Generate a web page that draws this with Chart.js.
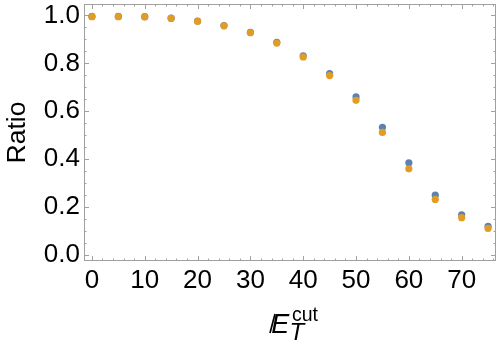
<!DOCTYPE html>
<html>
<head>
<meta charset="utf-8">
<script src="https://cdn.jsdelivr.net/npm/chart.js@4"></script>
<style>
  html, body { margin: 0; padding: 0; background: #fff; }
  #wrap { width: 500px; height: 342px; }
</style>
</head>
<body>
<div id="wrap"><canvas id="ratio"></canvas></div>
<script>
const cutValues = [0, 5, 10, 15, 20, 25, 30, 35, 40, 45, 50, 55, 60, 65, 70, 75];
const ratioBlue = [0.996, 0.996, 0.995, 0.989, 0.977, 0.958, 0.930, 0.888, 0.832, 0.757, 0.660, 0.533, 0.385, 0.250, 0.168, 0.120];
const ratioOrange = [0.995, 0.995, 0.994, 0.988, 0.976, 0.957, 0.928, 0.885, 0.827, 0.749, 0.646, 0.512, 0.360, 0.232, 0.156, 0.111];
const xTicks = [0, 10, 20, 30, 40, 50, 60, 70];
const yTicks = [0, 0.2, 0.4, 0.6, 0.8, 1.0];

const FRAME = '#a0a0a0';
const FONT = '"Liberation Sans", Arial, sans-serif';

const toPoints = ys => cutValues.map((x, i) => ({ x: x, y: ys[i] }));

// frame with inward ticks on all four sides, like the original
const framePlugin = {
  id: 'frame',
  beforeDatasetsDraw(chart) {
    const { ctx, chartArea: a, scales: { x, y } } = chart;
    ctx.save();
    ctx.strokeStyle = FRAME;
    ctx.lineWidth = 1;
    ctx.strokeRect(a.left + 0.5, a.top + 0.5, a.right - a.left - 1, a.bottom - a.top - 1);
    ctx.beginPath();
    for (let v = 0; v <= 76; v += 2) {
      const px = Math.round(x.getPixelForValue(v)) + 0.5;
      const len = v % 10 === 0 ? 5 : 2.5;
      ctx.moveTo(px, a.bottom); ctx.lineTo(px, a.bottom - len);
      ctx.moveTo(px, a.top); ctx.lineTo(px, a.top + len);
    }
    for (let k = 0; k <= 20; k++) {
      const v = k * 0.05;
      const py = Math.round(y.getPixelForValue(v)) + 0.5;
      const len = k % 4 === 0 ? 5 : 2.5;
      ctx.moveTo(a.left, py); ctx.lineTo(a.left + len, py);
      ctx.moveTo(a.right, py); ctx.lineTo(a.right - len, py);
    }
    ctx.stroke();
    ctx.restore();
  },
  afterDraw(chart) {
    const ctx = chart.ctx;
    ctx.save();
    ctx.fillStyle = '#000';
    // y axis title
    ctx.translate(25, 132.5);
    ctx.rotate(-Math.PI / 2);
    ctx.font = '26.5px ' + FONT;
    ctx.textAlign = 'center';
    ctx.textBaseline = 'alphabetic';
    ctx.fillText('Ratio', 0, 0);
    ctx.restore();

    // x axis title: slashed E, subscript T, superscript cut
    ctx.save();
    ctx.fillStyle = '#000';
    ctx.textAlign = 'left';
    ctx.textBaseline = 'alphabetic';
    ctx.font = 'italic 27px ' + FONT;
    ctx.fillText('E', 271.3, 333);
    ctx.strokeStyle = '#000';
    ctx.lineWidth = 1.7;
    ctx.beginPath();
    ctx.moveTo(270, 333);
    ctx.lineTo(275, 314);
    ctx.stroke();
    ctx.font = 'italic 24px ' + FONT;
    ctx.fillText('T', 289.5, 340);
    ctx.font = '19.5px ' + FONT;
    ctx.fillText('cut', 292, 321);
    ctx.restore();
  }
};

new Chart(document.getElementById('ratio').getContext('2d'), {
  type: 'scatter',
  data: {
    datasets: [
      { data: toPoints(ratioBlue), backgroundColor: '#5E81B5', borderWidth: 0, pointRadius: 3.6, order: 2 },
      { data: toPoints(ratioOrange), backgroundColor: '#E19C24', borderWidth: 0, pointRadius: 3.6, order: 1 }
    ]
  },
  options: {
    responsive: true,
    maintainAspectRatio: false,
    animation: false,
    layout: { padding: { top: 4, right: 1, left: 0, bottom: 0 } },
    plugins: { legend: { display: false }, tooltip: { enabled: false } },
    scales: {
      x: {
        type: 'linear',
        min: -1.5,
        max: 76.5,
        grid: { display: false, drawTicks: false },
        border: { display: false },
        afterBuildTicks: s => { s.ticks = xTicks.map(v => ({ value: v })); },
        afterFit: s => { s.height = 81; s.paddingLeft = 0; s.paddingRight = 0; },
        ticks: { color: '#000', padding: 4, maxRotation: 0, font: { family: FONT, size: 26 }, callback: v => String(v) }
      },
      y: {
        type: 'linear',
        min: -0.025,
        max: 1.048,
        grid: { display: false, drawTicks: false },
        border: { display: false },
        afterBuildTicks: s => { s.ticks = yTicks.map(v => ({ value: v })); },
        afterFit: s => { s.width = 84; s.paddingTop = 0; s.paddingBottom = 0; },
        ticks: { color: '#000', padding: 4, font: { family: FONT, size: 26 }, callback: v => v.toFixed(1) }
      }
    }
  },
  plugins: [framePlugin]
});
</script>
</body>
</html>
